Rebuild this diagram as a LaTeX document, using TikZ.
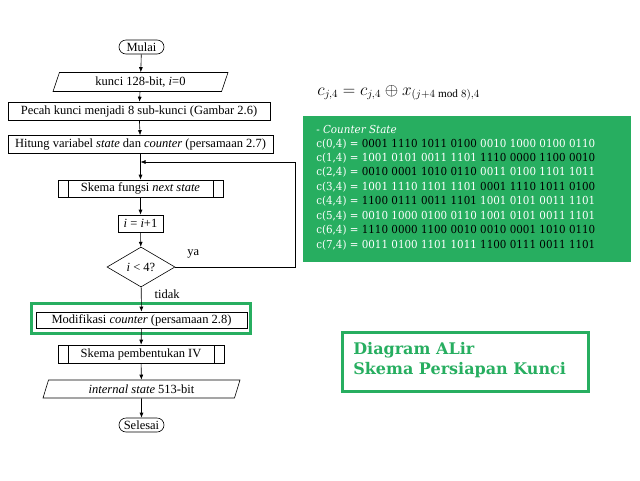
\documentclass[tikz,border=0pt]{standalone}
\usepackage{fontspec}
\setmainfont{Liberation Serif}
\newfontfamily\panelfont[FakeStretch=0.94]{DejaVu Serif}
\newfontfamily\judulfont{DejaVu Serif}
\usetikzlibrary{calc}
\usetikzlibrary{arrows.meta}
\usetikzlibrary{shapes.misc}
\usetikzlibrary{shapes.geometric}
\definecolor{hijau}{RGB}{39,174,96}

\begin{document}
\begin{tikzpicture} [x=1pt, y=-1pt, >={Latex[length=5pt,width=4pt]}, line width=.6pt,
  every node/.style={font=\fontsize{12.5}{14}\selectfont, inner sep=1pt},
  terminal/.style={draw, rounded rectangle, minimum width=47, minimum height=14},
  kotak/.style={draw, rectangle, minimum height=18},
  proses/.style={draw, rectangle, minimum height=17, path picture={
    \draw ([xshift=10pt]path picture bounding box.north west) -- ([xshift=10pt]path picture bounding box.south west)
          ([xshift=-10pt]path picture bounding box.north east) -- ([xshift=-10pt]path picture bounding box.south east);}},
  jajar/.style={draw, trapezium, trapezium left angle=63, trapezium right angle=117, trapezium stretches body, minimum height=19},
  cabang/.style={draw, diamond, aspect=1.7, minimum width=68, minimum height=40, inner sep=0pt},
  panelteks/.style={anchor=base west, inner sep=0pt, font=\panelfont\fontsize{11}{13}\selectfont, text=white},
  judulteks/.style={anchor=base west, inner sep=0pt, text=hijau, font=\judulfont\bfseries\fontsize{16}{18}\selectfont}]
\useasboundingbox (0,0) rectangle (640,480);

% diagram alir
\node[terminal] (mulai) at (141.5,47) {Mulai};
\node[jajar, minimum width=175] (kunci) at (140.5,82) {kunci 128-bit, \textit{i}=0};
\node[kotak, minimum width=262] (pecah) at (139,111) {Pecah kunci menjadi 8 sub-kunci (Gambar 2.6)};
\node[kotak, minimum width=265] (hitung) at (140.5,144.5) {Hitung variabel \textit{state} dan \textit{counter} (persamaan 2.7)};
\node[proses, minimum width=165] (next) at (140.5,188.5) {Skema fungsi \textit{next state}};
\node[kotak, minimum width=45, minimum height=17] (inc) at (140.5,223.5) {\textit{i} = \textit{i}+1};
\node[cabang] (cek) at (141,267) {\textit{i} < 4?};
\node[draw=hijau, line width=3pt, minimum width=219, minimum height=30] (bingkai) at (141,318.5) {};
\node[kotak, minimum width=211, minimum height=16] (modif) at (141.5,320) {Modifikasi \textit{counter} (persamaan 2.8)};
\node[proses, minimum width=166, minimum height=18] (iv) at (141,354) {Skema pembentukan IV};
\node[jajar, minimum width=197, minimum height=18] (internal) at (141.5,389) {\textit{internal state} 513-bit};
\node[terminal] (selesai) at (141.5,425) {Selesai};
\coordinate (gabung) at (140.5,162);

\draw[->] (mulai) -- (kunci);
\draw[->] (kunci) -- (pecah);
\draw[->] (pecah) -- (hitung);
\draw[->] (hitung) -- (next);
\draw[->] (next) -- (inc);
\draw[->] (inc) -- (cek);
\draw[->] (cek) -- node[pos=.3, right, xshift=12pt] {tidak} (modif);
\draw[->] (modif) -- (iv);
\draw[->] (iv) -- (internal);
\draw[->] (internal) -- (selesai);
\draw[->] (cek.east) -- ++(120,0) node[pos=.15, above, yshift=8pt] {ya} |- (gabung);

% persamaan
\node[anchor=base west, inner sep=0pt, font=\fontsize{16}{18}\selectfont] (rumus) at (317,95) {$c_{j,4} = c_{j,4}\oplus x_{(j+4 \bmod 8),4}$};

% counter state
\node[fill=hijau, anchor=north west, minimum width=328, minimum height=146] (panel) at (303,116) {};
\node[panelteks] (judul) at (316,133) {- \textit{Counter State}};
\foreach \n/\a/\ca/\b/\cb in {
  0/{0001 1110 1011 0100}/black/{0010 1000 0100 0110}/white,
  1/{1001 0101 0011 1101}/white/{1110 0000 1100 0010}/black,
  2/{0010 0001 1010 0110}/black/{0011 0100 1101 1011}/white,
  3/{1001 1110 1101 1101}/white/{0001 1110 1011 0100}/black,
  4/{1100 0111 0011 1101}/black/{1001 0101 0011 1101}/white,
  5/{0010 1000 0100 0110}/white/{1001 0101 0011 1101}/white,
  6/{1110 0000 1100 0010}/black/{0010 0001 1010 0110}/black,
  7/{0011 0100 1101 1011}/white/{1100 0111 0011 1101}/black}
  \node[panelteks] (baris\n) at (316,{147+14.43*\n}) {c(\n,4) = \textcolor{\ca}{\a} \textcolor{\cb}{\b}};

% judul
\node[draw=hijau, line width=3pt, anchor=north west, minimum width=246, minimum height=59] (judulkotak) at (340.5,330.5) {};
\node[judulteks] (judul1) at (353,354) {Diagram ALir};
\node[judulteks] (judul2) at (353,374) {Skema Persiapan Kunci};

\end{tikzpicture}
\end{document}
